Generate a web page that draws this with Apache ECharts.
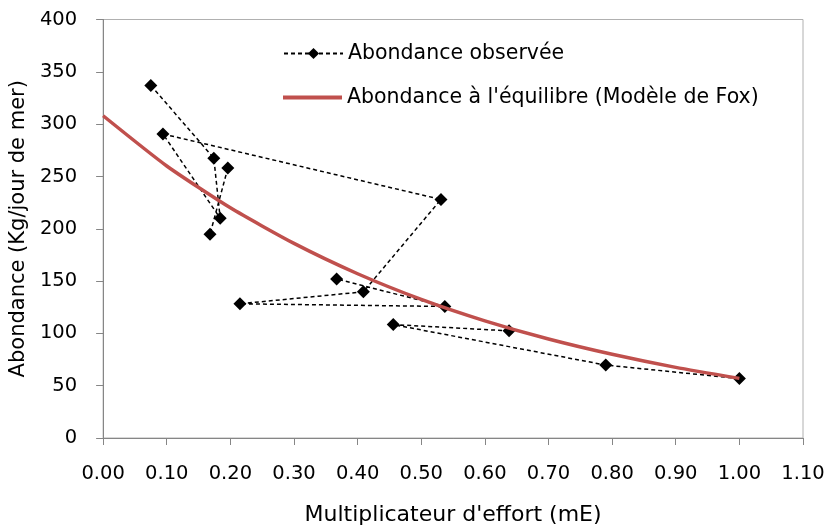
<!DOCTYPE html>
<html>
<head>
<meta charset="utf-8">
<script src="https://cdn.jsdelivr.net/npm/echarts@6/dist/echarts.min.js"></script>
<style>
html,body{margin:0;padding:0;background:#fff;}
#chart{width:829px;height:531px;}
</style>
</head>
<body>
<div id="chart"></div>
<script>
// Observed abundance, in plotted order (null = gap in the line)
var obsEffort = [0.075, 0.174, 0.184, 0.094, 0.531, 0.409, 0.215, 0.537, 0.367, null, 0.196, 0.168, null, 0.638, 0.456, 0.790, 1.000];
var obsAbund  = [337, 267.5, 210, 290.6, 228, 139.7, 128.3, 125.7, 152, null, 258, 194.7, null, 102.4, 108.4, 69.7, 56.8];
// Equilibrium abundance (Fox model)
var foxEffort = [0.0, 0.1, 0.2, 0.3, 0.4, 0.5, 0.6, 0.7, 0.8, 0.9, 1.0];
var foxAbund  = [308, 260, 220, 186, 157, 132.5, 112, 94.6, 80, 67.5, 57];
var xTicks = ['0.00','0.10','0.20','0.30','0.40','0.50','0.60','0.70','0.80','0.90','1.00','1.10'];
var obsName = 'Abondance observée';
var foxName = "Abondance à l'équilibre (Modèle de Fox)";

var FONT = '"DejaVu Sans", sans-serif';
var chart = echarts.init(document.getElementById('chart'));
chart.setOption({
  animation: false,
  backgroundColor: '#fff',
  grid: {left: 99, right: 26, top: 19.5, bottom: 90, show: true, borderColor: '#b0b0b0', borderWidth: 1},
  legend: [
    {
      orient: 'vertical', left: 278, top: 38, padding: 5, itemWidth: 59, itemHeight: 14,
      textStyle: {fontFamily: FONT, fontSize: 20.5, color: '#000'},
      data: [obsName]
    },
    {
      orient: 'vertical', left: 278, top: 82, padding: 5, itemWidth: 59, itemHeight: 4,
      textStyle: {fontFamily: FONT, fontSize: 20.5, color: '#000'},
      data: [{name: foxName, icon: 'rect'}]
    }
  ],
  xAxis: {
    type: 'value', min: 0, max: 1.1, interval: 0.1,
    name: "Multiplicateur d'effort (mE)", nameLocation: 'middle', nameGap: 66,
    nameTextStyle: {fontFamily: FONT, fontSize: 22, color: '#000'},
    axisLine: {show: true, lineStyle: {color: '#868686', width: 1}},
    axisTick: {show: true, length: 7, lineStyle: {color: '#868686'}},
    splitLine: {show: false},
    axisLabel: {fontFamily: FONT, fontSize: 19.5, color: '#000', margin: 26,
      formatter: function (v) { return xTicks[Math.round(v * 10)]; }}
  },
  yAxis: {
    type: 'value', min: 0, max: 400, interval: 50,
    name: 'Abondance (Kg/jour de mer)', nameLocation: 'middle', nameGap: 69,
    nameTextStyle: {fontFamily: FONT, fontSize: 21, color: '#000'},
    axisLine: {show: true, lineStyle: {color: '#868686', width: 1}},
    axisTick: {show: true, length: 7, lineStyle: {color: '#868686'}},
    splitLine: {show: false},
    axisLabel: {fontFamily: FONT, fontSize: 19.5, color: '#000', margin: 26}
  },
  series: [
    {
      name: obsName, type: 'line', z: 2, connectNulls: false,
      data: obsEffort.map(function (x, i) { return x === null ? ['-', '-'] : [x, obsAbund[i]]; }),
      symbol: 'diamond', symbolSize: 13, showSymbol: true,
      itemStyle: {color: '#000'},
      lineStyle: {color: '#000', width: 1.5, type: [4, 3]}
    },
    {
      name: foxName, type: 'line', z: 3,
      data: foxEffort.map(function (x, i) { return [x, foxAbund[i]]; }),
      symbol: 'none', smooth: 0.2,
      itemStyle: {color: '#C0504D'},
      lineStyle: {color: '#C0504D', width: 3.5}
    }
  ]
});
</script>
</body>
</html>
